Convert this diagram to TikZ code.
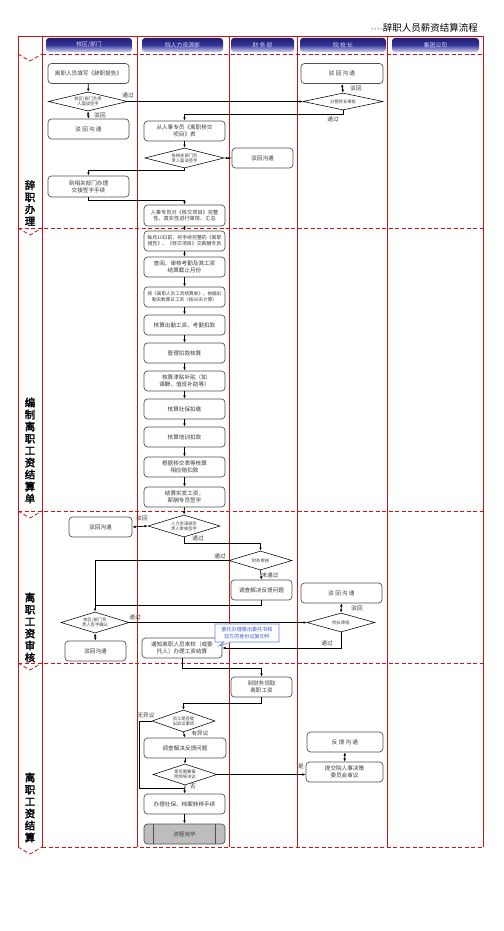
\documentclass[tikz,border=0pt]{standalone}
\usepackage{fontspec}
\newfontfamily\cjk{Noto Sans CJK SC}
\newfontfamily\cjkb[FakeBold=2.5]{Noto Sans CJK SC}
\newfontfamily\symf{DejaVu Sans}
\usetikzlibrary{shapes.geometric,shapes.callouts,arrows.meta,calc}
\definecolor{lanered}{HTML}{C81414}
\definecolor{boxline}{HTML}{505050}
\definecolor{boxtext}{HTML}{3A3A3A}
\definecolor{hdrtop}{HTML}{1E1E70}
\definecolor{hdrmid}{HTML}{36369A}
\definecolor{hdrbot}{HTML}{D4D4F4}
\definecolor{notecol}{HTML}{3A5AD0}
\definecolor{endgray}{HTML}{BDBDBD}
\tikzset{
  lanesolid/.style={draw=lanered, line width=0.8pt},
  lanedash/.style={draw=lanered, line width=0.8pt, dash pattern=on 4pt off 2.5pt},
  hdr/.style={rounded corners=3pt, top color=hdrtop, bottom color=hdrbot, middle color=hdrmid, text=white!85!blue, font=\cjk\fontsize{5.8}{7}\selectfont, minimum height=14pt, inner sep=0pt},
  procbox/.style={draw=boxline, line width=0.7pt, rounded corners=3.5pt, fill=white, text=boxtext, font=\cjk\fontsize{5.6}{6.8}\selectfont, align=center, inner sep=0pt, minimum width=81pt, minimum height=20pt},
  decision/.style={diamond, draw=black, line width=0.55pt, fill=white, inner sep=0pt},
  dtext/.style={text=boxtext, font=\cjk\fontsize{4.3}{5}\selectfont, align=center, inner sep=0pt},
  conn/.style={draw=black, line width=0.75pt},
  arr/.style={conn, -{Latex[length=3.2pt,width=2.6pt]}},
  darr/.style={conn, {Latex[length=3.2pt,width=2.6pt]}-{Latex[length=3.2pt,width=2.6pt]}},
  flabel/.style={text=boxtext, font=\cjk\fontsize{5.6}{6.5}\selectfont, inner sep=0pt},
  lanelabel/.style={font=\cjkb\fontsize{10.5}{12}\selectfont, align=center, text=black, inner sep=0pt},
}
\begin{document}
\begin{tikzpicture}[x=1pt,y=-1pt]
\useasboundingbox[fill=white] (0,0) rectangle (503,931);

% title
\node[anchor=east, inner sep=0pt, font=\cjk\fontsize{9.5}{11}\selectfont] (title) at (478,28) {{\color{gray!80}\symf\fontsize{7.5}{8}\selectfont ››››}辞职人员薪资结算流程};

% lane frame
\draw[lanesolid] (18,36) -- (483,36);
\foreach \xx in {18,42,137,229,297,387,483} {\draw[lanesolid] (\xx,36) -- (\xx,847);}
\draw[lanedash] (42,54) -- (483,54);
\foreach \yy in {228,511,663} {\draw[lanedash] (18,\yy) -- (483,\yy);}
\draw[lanedash] (42,847) -- (483,847);
\foreach \yy in {54,228,511,663,847} {\draw[lanedash] (18,\yy) -- (30,\yy+7) -- (42,\yy);}

% headers
\node[hdr, minimum width=86pt] (h1) at (89,45) {校区/部门};
\node[hdr, minimum width=81pt] (h2) at (182.5,45) {院人力资源部};
\node[hdr, minimum width=63pt] (h3) at (262.5,45) {财\ 务\ 部};
\node[hdr, minimum width=86pt] (h4) at (343,45) {院\ 校\ 长};
\node[hdr, minimum width=87pt] (h5) at (435.5,45) {集团公司};

% lane labels
\node[lanelabel] (l1) at (30,203) {辞\\职\\办\\理};
\node[lanelabel] (l2) at (30,450.5) {编\\制\\离\\职\\工\\资\\结\\算\\单};
\node[lanelabel] (l3) at (30,627.5) {离\\职\\工\\资\\审\\核};
\node[lanelabel] (l4) at (30,807.5) {离\\职\\工\\资\\结\\算};

% ---------- lane 1 ----------
\node[procbox] (a1) at (88.5,73.5) {离职人员填写《辞职报告》};
\node[decision, minimum width=79pt, minimum height=19pt] (a2) at (88,101.5) {};
\node[dtext] (a2t) at (a2) {校区/部门负责\\人面谈签字};
\node[procbox] (a3) at (88.5,129) {驳\ 回\ 沟\ 通};
\node[procbox, minimum width=82pt] (p1) at (342,73.5) {驳\ 回\ 沟\ 通};
\node[decision, minimum width=80pt, minimum height=17pt] (p2) at (343,101.5) {};
\node[dtext] (p2t) at (p2) {分管院长审批};
\node[procbox] (b1) at (184.5,131) {从人事专员《离职移交\\项目》表};
\node[decision, minimum width=79pt, minimum height=20pt] (b2) at (184.5,158) {};
\node[dtext] (b2t) at (b2) {各相关部门负\\责人面谈签字};
\node[procbox, minimum width=61pt] (f1) at (262.5,158) {驳回沟通};
\node[procbox, minimum height=21pt] (a4) at (88.5,186.5) {到相关部门办理\\交接签字手续};
\node[procbox, minimum height=21pt, font=\cjk\fontsize{5.2}{6.4}\selectfont] (b3) at (184.5,215.5) {人事专员对《移交项目》完整\\性、真实性进行审核、汇总};

\draw[arr] (a1) -- (a2);
\draw[darr] (a2.south) -- (a3.north);
\node[flabel] (lb1) at (100,115) {驳回};
\draw[arr] (a2.east) -- (p2.west);
\node[flabel] (lb2) at (128,95) {通过};
\draw[darr] (p1.south) -- (p2.north);
\node[flabel] (lb3) at (356,88) {驳回};
\coordinate (c1) at (184.5,114);
\draw[arr] (p2.south) |- (c1) -- (b1.north);
\node[flabel] (lb4) at (333,119) {通过};
\draw[arr] (b1) -- (b2);
\draw[darr] (b2.east) -- (f1.west);
\draw[arr] (b2.south) -- ++(0,2) -| (a4.north);
\draw[arr] (a4.south) -- ++(0,3) -| (b3.north);

% ---------- lane 2 ----------
\node[procbox, font=\cjk\fontsize{4.9}{6}\selectfont] (k1) at (184.5,241) {每月10日前，将手续完整的《离职\\报告》、《移交项目》交薪酬专员};
\node[procbox] (k2) at (184.5,267) {查阅、审核考勤及其工资\\结算截止月份};
\node[procbox, font=\cjk\fontsize{4.6}{6}\selectfont] (k3) at (184.5,297) {按《离职人员工资结算单》，依据出\\勤天数算日工资（按30天计算）};
\node[procbox] (k4) at (184.5,325) {核算出勤工资、考勤扣款};
\node[procbox] (k5) at (184.5,353) {管理扣款核算};
\node[procbox] (k6) at (184.5,381) {核算津贴补贴（如\\课酬、值班补助等）};
\node[procbox] (k7) at (184.5,409) {核算社保扣缴};
\node[procbox] (k8) at (184.5,437) {核算培训扣款};
\node[procbox] (k9) at (184.5,467) {根据移交表等核算\\相应赔扣款};
\node[procbox] (k10) at (184.5,497) {结算实发工资，\\薪酬专员签字};
\draw[arr] (b3) -- (k1);
\draw[arr] (k1) -- (k2);
\draw[arr] (k2) -- (k3);
\draw[arr] (k3) -- (k4);
\draw[arr] (k4) -- (k5);
\draw[arr] (k5) -- (k6);
\draw[arr] (k6) -- (k7);
\draw[arr] (k7) -- (k8);
\draw[arr] (k8) -- (k9);
\draw[arr] (k9) -- (k10);

% ---------- lane 3 ----------
\node[decision, minimum width=72pt, minimum height=22pt] (d1) at (184,526) {};
\node[dtext] (d1t) at (d1) {人力资源部负\\责人审核签字};
\node[procbox, minimum width=63pt] (d0) at (100.5,527) {驳回沟通};
\draw[arr] (k10.south) -- (d1.north);
\draw[darr] (d1.west) -- (d0.east);
\node[flabel] (lb5) at (142,518) {驳回};
\node[decision, minimum width=63pt, minimum height=19pt] (d2) at (260.5,560.5) {};
\node[dtext] (d2t) at (d2) {财务审核};
\draw[arr] (d1.south) -- ++(0,6) -| (d2.north);
\node[flabel] (lb6) at (198,538) {通过};
\node[procbox, minimum width=61pt] (e1) at (261.5,590) {调查解决反馈问题};
\draw[arr] (d2.south) -- (e1.north);
\node[flabel] (lb7) at (270,575) {未通过};
\node[decision, minimum width=68pt, minimum height=21pt] (d3) at (95,622.5) {};
\node[dtext] (d3t) at (d3) {校区/部门负\\责人签字确认};
\coordinate (j1) at (95,605);
\draw[conn] (d2.west) -| (j1);
\node[flabel] (lb8) at (220,556) {通过};
\draw[conn] (e1.south) |- (j1);
\draw[arr] (j1) -- (d3.north);
\node[procbox, minimum width=61pt] (d4) at (95.5,651) {驳回沟通};
\draw[darr] (d3.south) -- (d4.north);
\node[decision, minimum width=68pt, minimum height=19pt] (p3) at (341,622.5) {};
\node[dtext] (p3t) at (p3) {院长审批};
\node[procbox] (p4) at (341.5,593) {驳\ 回\ 沟\ 通};
\draw[darr] (p4.south) -- (p3.north);
\node[flabel] (lb9) at (357,608) {驳回};
\draw[arr] (d3.east) -- (p3.west);
\node[flabel] (lb10) at (135,617) {通过};
\node[procbox, minimum width=80pt] (e2) at (182,648) {通知离职人员来校（或委\\托人）办理工资结算};
\draw[arr] (p3.south) |- (e2.east);
\node[flabel] (lb11) at (327,643) {通过};
\node[rectangle callout, draw=notecol!75, line width=0.6pt, fill=white, text=notecol, font=\cjk\fontsize{5.1}{6.2}\selectfont, align=center, minimum width=64pt, minimum height=18pt, inner sep=0pt, callout absolute pointer={(219,646)}] (note) at (247,633) {委托办理需出委托书和\\双方的身份证复印件};

% ---------- lane 4 ----------
\node[procbox, minimum width=61pt] (g1) at (261.5,687) {到财务领取\\离职工资};
\draw[arr] (e2.south) -- ++(0,10) -| (g1.north);
\node[decision, minimum width=63pt, minimum height=22pt] (g2) at (183.5,721) {};
\node[dtext] (g2t) at (g2) {员工是否提\\出异议事项};
\draw[arr] (g1.south) -- ++(0,6) -| (g2.north);
\node[procbox, minimum width=82pt] (g3) at (185,748) {调查解决反馈问题};
\draw[arr] (g2.south) -- (g3.north);
\node[flabel] (lb12) at (200,733) {有异议};
\node[decision, minimum width=64pt, minimum height=21pt] (g4) at (185,774.5) {};
\node[dtext] (g4t) at (g4) {是否需要报\\院领导决议};
\draw[arr] (g3) -- (g4);
\node[procbox, minimum width=77pt] (p6) at (344.5,772) {提交院人事决策\\委员会审议};
\node[procbox, minimum width=76pt] (p5) at (345,742) {反\ 馈\ 沟\ 通};
\draw[darr] (p5.south) -- (p6.north);
\draw[arr] (g4.east) -- (p6.west |- g4.east);
\node[flabel] (lb13) at (301,766) {是};
\node[procbox] (g5) at (184.5,804) {办理社保、档案转移手续};
\draw[arr] (g4.south) -- (g5.north);
\node[flabel] (lb14) at (193,787) {否};
\coordinate (j2) at (139,788);
\draw[conn] (g2.west) -| (j2) -- (j2 -| g4.south);
\node[flabel] (lb15) at (146,715) {无异议};
\node[procbox, fill=endgray] (g6) at (184.5,834) {流程完毕};
\draw[boxline, line width=0.7pt] ($(g6.north west)+(10,0)$) -- ($(g6.south west)+(10,0)$);
\draw[boxline, line width=0.7pt] ($(g6.north east)+(-10,0)$) -- ($(g6.south east)+(-10,0)$);
\draw[arr] (g5) -- (g6);
\end{tikzpicture}
\end{document}
